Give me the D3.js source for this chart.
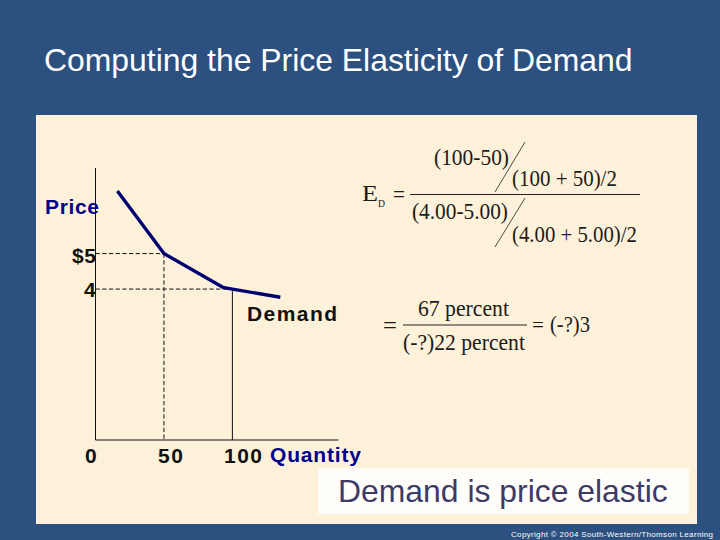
<!DOCTYPE html>
<meta charset="utf-8">
<style>
  html, body { margin: 0; padding: 0; background: #2c5080; overflow: hidden; }
  svg { display: block; }
  text { font-family: "Liberation Sans", Arial, sans-serif; }
  .math { font-family: "Liberation Serif", "Times New Roman", serif; fill: #1c1c1c; }
  .tick { font-size: 21px; fill: #111; font-weight: bold; }
  .axis-name { font-size: 21px; fill: #00008b; font-weight: bold; }
</style>
<body>
<script src="https://cdnjs.cloudflare.com/ajax/libs/d3/7.8.5/d3.min.js"></script>
<script>

var titleText = 'Computing the Price Elasticity of Demand';
var calloutText = 'Demand is price elastic';
var copyrightText = 'Copyright © 2004  South-Western/Thomson Learning';

// demand curve
var quantities = [16, 50, 93, 100, 135];
var prices = [6.76, 5, 4.05, 4, 3.77];

// the two marked points
var markedQuantities = [50, 100];
var markedPrices = [5, 4];
var priceLabels = ['$5', '4'];
var quantityLabels = ['0', '50', '100'];

var svg = d3.select('body').append('svg').attr('width', 720).attr('height', 540);

// slide
svg.append('rect').attr('width', 720).attr('height', 540).attr('fill', '#2c5080');
svg.append('rect').attr('x', 36).attr('y', 115).attr('width', 661).attr('height', 409).attr('fill', '#fef1da');

svg.append('text').attr('x', 44).attr('y', 71)
  .style('font-size', '31.9px').style('fill', '#fff').text(titleText);

// scales
var x = d3.scaleLinear().domain([0, 177.5]).range([95.5, 338.5]);
var y = d3.scaleLinear().domain([-0.25, 7.41]).range([440, 168]);

// axes
svg.append('path')
  .attr('d', d3.line()([[x(0), y.range()[1]], [x(0), y.range()[0]], [x.range()[1], y.range()[0]]]))
  .attr('fill', 'none').attr('stroke', '#111').attr('stroke-width', 1);

// dashed guide lines
svg.selectAll('.hguide').data(markedPrices).enter().append('line')
  .attr('class', 'hguide')
  .attr('x1', x(0)).attr('x2', function (d, i) { return x(markedQuantities[i]); })
  .attr('y1', function (d) { return y(d); }).attr('y2', function (d) { return y(d); })
  .attr('stroke', '#111').attr('stroke-dasharray', '4.3,2.4');

svg.selectAll('.vguide').data(markedQuantities).enter().append('line')
  .attr('class', 'vguide')
  .attr('x1', function (d) { return x(d); }).attr('x2', function (d) { return x(d); })
  .attr('y1', function (d, i) { return y(markedPrices[i]); }).attr('y2', y.range()[0])
  .attr('stroke', '#111')
  .attr('stroke-dasharray', function (d, i) { return i === 0 ? '4.3,2.4' : null; });

// demand curve
var demandLine = d3.line()
  .x(function (d) { return x(d); })
  .y(function (d, i) { return y(prices[i]); });

svg.append('path').attr('d', demandLine(quantities))
  .attr('fill', 'none').attr('stroke', '#000070').attr('stroke-width', 3.4)
  .attr('stroke-linejoin', 'round');

// labels, spread to the widths in the picture
function label(cls, str, px, py, len) {
  return svg.append('text').attr('class', cls).attr('x', px).attr('y', py)
    .attr('textLength', len).text(str);
}
label('tick', priceLabels[0], 72, 263, 24);
label('tick', priceLabels[1], 84, 297, 12);
label('tick', quantityLabels[0], 85, 463, 12);
label('tick', quantityLabels[1], 158, 463, 25);
label('tick', quantityLabels[2], 224, 463, 38);
label('tick', 'Demand', 247, 321, 90);
label('axis-name', 'Price', 45, 214, 54);
label('axis-name', 'Quantity', 270, 462, 91);

// formula: the glyphs in the picture are narrow, so squeeze each text sideways
function math(str, px, py, size, len) {
  var t = svg.append('text').attr('class', 'math')
    .style('font-size', size + 'px').text(str);
  var k = len / t.node().getComputedTextLength();
  t.attr('transform', 'translate(' + px + ',' + py + ') scale(' + k + ',1)');
  return t;
}
function rule(x1, y1, x2, y2, w) {
  svg.append('line').attr('x1', x1).attr('y1', y1).attr('x2', x2).attr('y2', y2)
    .attr('stroke', '#222').attr('stroke-width', w);
}

math('E', 362, 201, 24, 16);
math('D', 378, 207, 11, 7);
math('=', 393, 202, 24, 12);
math('(100-50)', 434, 165, 24, 75);
math('(100 + 50)/2', 512, 186, 24, 105);
math('(4.00-5.00)', 412, 219, 24, 96);
math('(4.00 + 5.00)/2', 512, 242, 24, 125);
rule(410, 194.5, 640, 194.5, 1.2);
rule(525, 142, 495, 192, 0.8);
rule(525, 198, 495, 247, 0.8);

math('=', 383, 333, 24, 14);
math('67 percent', 418, 316, 24, 91);
math('(-?)22 percent', 403, 350, 24, 122);
rule(403, 325, 527, 325, 1.2);
math('=', 532, 332, 22, 12);
math('(-?)3', 550, 332, 24, 40);

// callout
svg.append('rect').attr('x', 318).attr('y', 468).attr('width', 371).attr('height', 46).attr('fill', '#fffdf9');
svg.append('text').attr('x', 338).attr('y', 502)
  .style('font-size', '31.9px').style('fill', '#3d3a66').text(calloutText);

svg.append('text').attr('x', 511).attr('y', 537).attr('textLength', 202)
  .style('font-size', '8px').style('fill', '#fff').text(copyrightText);

</script>
</body>
</html>
